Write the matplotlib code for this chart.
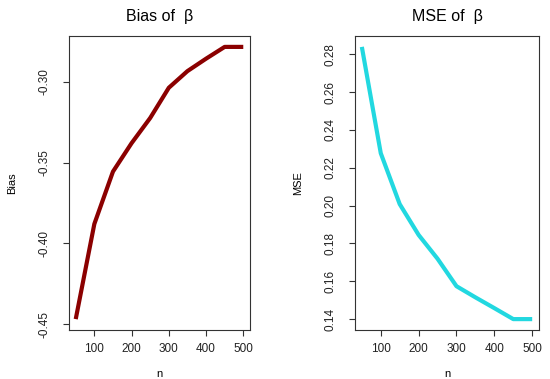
import matplotlib
matplotlib.use("Agg")
import matplotlib.pyplot as plt

plt.rcParams['font.family'] = ['Liberation Sans', 'DejaVu Sans']

# sample sizes
n = [50, 100, 150, 200, 250, 300, 350, 400, 450, 500]
# values
bias = [-0.4469, -0.388, -0.3556, -0.338, -0.3224, -0.3037, -0.2934, -0.2857, -0.2784, -0.2784]
mse = [0.2839, 0.2277, 0.2008, 0.1845, 0.1719, 0.1574, 0.1515, 0.1458, 0.1400, 0.1400]

bias_ticks = [-0.45, -0.40, -0.35, -0.30]
mse_ticks = [0.14, 0.16, 0.18, 0.20, 0.22, 0.24, 0.26, 0.28]
x_ticks = [100, 200, 300, 400, 500]


def r_lim(vals):
    lo, hi = min(vals), max(vals)
    pad = (hi - lo) * 0.04
    return lo - pad, hi + pad


def panel(ax, y, col, title, ylab, yticks):
    ax.plot(n, y, color=col, lw=3, solid_capstyle='butt')
    ax.set_xlim(r_lim(n))
    ax.set_ylim(r_lim(y))
    ax.set_xticks(x_ticks)
    ax.set_yticks(yticks)
    ax.set_yticklabels(["%.2f" % t for t in yticks], rotation=90, va='center')
    ax.tick_params(labelsize=8.5, length=4.5, width=0.8, colors='#333333', labelcolor='#222222')
    ax.tick_params(axis='y', pad=9)
    ax.tick_params(axis='x', pad=5)
    for s in ax.spines.values():
        s.set_linewidth(0.8)
        s.set_color('#333333')
    ax.set_title(title, fontsize=11.5, pad=11)
    ax.set_xlabel("n", fontsize=8, labelpad=10)
    ax.set_ylabel(ylab, fontsize=8, labelpad=15)


fig = plt.figure(figsize=(5.5, 3.79), dpi=100)
ax1 = fig.add_axes([0.1255, 0.1293, 0.329, 0.7757])
ax2 = fig.add_axes([0.6455, 0.1293, 0.3345, 0.7757])

panel(ax1, bias, '#8B0000', "Bias of  β", "Bias", bias_ticks)
panel(ax2, mse, '#22D8E0', "MSE of  β", "MSE", mse_ticks)

fig.savefig("out.png", dpi=100)
